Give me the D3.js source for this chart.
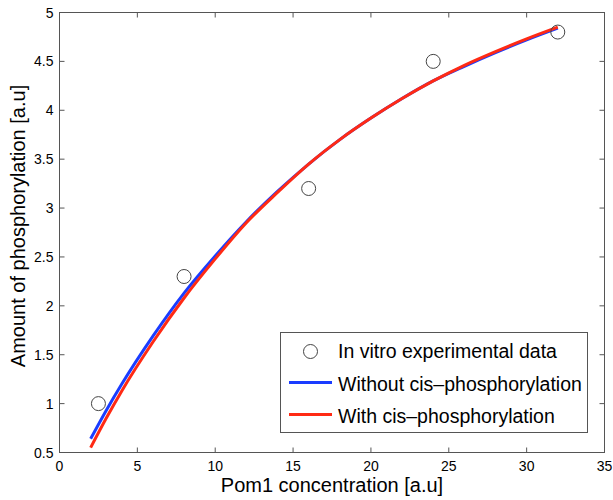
<!DOCTYPE html>
<html><head><meta charset="utf-8">
<script src="https://cdn.jsdelivr.net/npm/d3@7"></script>
<style>body{margin:0;background:#fff}svg{display:block}text{font-family:"Liberation Sans",Arial,Helvetica,sans-serif}</style>
</head><body>
<svg id="c" width="613" height="500"></svg>
<script>
const expX = [2.5, 8, 16, 24, 32];
const expY = [1.0, 2.3, 3.2, 4.5, 4.8];
const curveX = [2, 3, 4, 6, 8, 10, 12, 14, 16, 18, 20, 22, 24, 26, 28, 30, 32];
const withoutCis = [0.64, 0.93, 1.20, 1.69, 2.13, 2.51, 2.86, 3.17, 3.45, 3.70, 3.92, 4.12, 4.30, 4.45, 4.59, 4.72, 4.84];
const withCis =    [0.55, 0.85, 1.13, 1.63, 2.08, 2.48, 2.85, 3.16, 3.45, 3.70, 3.92, 4.12, 4.30, 4.46, 4.60, 4.73, 4.85];
const xTicks = [0, 5, 10, 15, 20, 25, 30, 35];
const yTicks = [0.5, 1, 1.5, 2, 2.5, 3, 3.5, 4, 4.5, 5];
const legendLabels = ["In vitro experimental data", "Without cis\u2013phosphorylation", "With cis\u2013phosphorylation"];

const svg = d3.select("#c");
const L = 59.5, R = 604.5, T = 12.5, B = 452.5;
const x = d3.scaleLinear().domain([0, 35]).range([L, R]);
const y = d3.scaleLinear().domain([0.5, 5]).range([B, T]);
const axCol = "#555";

// axes box
svg.append("rect").attr("x", L).attr("y", T).attr("width", R - L).attr("height", B - T)
  .attr("fill", "none").attr("stroke", axCol).attr("stroke-width", 1);

const tl = 5;
const gx = svg.append("g");
xTicks.forEach(t => {
  gx.append("line").attr("x1", x(t)).attr("x2", x(t)).attr("y1", B).attr("y2", B - tl).attr("stroke", axCol);
  gx.append("line").attr("x1", x(t)).attr("x2", x(t)).attr("y1", T).attr("y2", T + tl).attr("stroke", axCol);
  gx.append("text").attr("x", x(t)).attr("y", B + 18).attr("text-anchor", "middle")
    .attr("font-size", 14).attr("fill", "#000").text(d3.format("")(t));
});
const gy = svg.append("g");
yTicks.forEach(t => {
  gy.append("line").attr("x1", L).attr("x2", L + tl).attr("y1", y(t)).attr("y2", y(t)).attr("stroke", axCol);
  gy.append("line").attr("x1", R).attr("x2", R - tl).attr("y1", y(t)).attr("y2", y(t)).attr("stroke", axCol);
  gy.append("text").attr("x", L - 6).attr("y", y(t) + 5).attr("text-anchor", "end")
    .attr("font-size", 14).attr("fill", "#000").text(t);
});

svg.append("text").attr("x", 332).attr("y", 492).attr("text-anchor", "middle")
  .attr("font-size", 20).attr("fill", "#000").text("Pom1 concentration [a.u]");
svg.append("text").attr("transform", `translate(25,226) rotate(-90)`).attr("text-anchor", "middle")
  .attr("font-size", 20).attr("fill", "#000").text("Amount of phosphorylation [a.u]");

const line = d3.line().x(d => x(d[0])).y(d => y(d[1])).curve(d3.curveMonotoneX);
const blue = "#1a3cff", red = "#ff2a14";
svg.append("path").datum(curveX.map((v, i) => [v, withoutCis[i]])).attr("d", line)
  .attr("fill", "none").attr("stroke", blue).attr("stroke-width", 3);
svg.append("path").datum(curveX.map((v, i) => [v, withCis[i]])).attr("d", line)
  .attr("fill", "none").attr("stroke", red).attr("stroke-width", 3);

svg.selectAll("circle.pt").data(expX.map((v, i) => [v, expY[i]])).enter().append("circle")
  .attr("class", "pt").attr("cx", d => x(d[0])).attr("cy", d => y(d[1])).attr("r", 7)
  .attr("fill", "none").attr("stroke", "#444").attr("stroke-width", 1);

// legend
const lg = svg.append("g");
lg.append("rect").attr("x", 280.5).attr("y", 332.5).attr("width", 307).attr("height", 100)
  .attr("fill", "#fff").attr("stroke", axCol);
const rows = [351.5, 382.5, 414.5];
const baselines = [358, 391, 423];
lg.append("circle").attr("cx", 310.5).attr("cy", rows[0]).attr("r", 7).attr("fill", "none").attr("stroke", "#444");
lg.append("line").attr("x1", 289).attr("x2", 332).attr("y1", rows[1]).attr("y2", rows[1]).attr("stroke", blue).attr("stroke-width", 3);
lg.append("line").attr("x1", 289).attr("x2", 332).attr("y1", rows[2]).attr("y2", rows[2]).attr("stroke", red).attr("stroke-width", 3);
legendLabels.forEach((s, i) => {
  lg.append("text").attr("x", 338).attr("y", baselines[i]).attr("font-size", 19.5).attr("fill", "#000").text(s);
});
</script>
</body></html>
